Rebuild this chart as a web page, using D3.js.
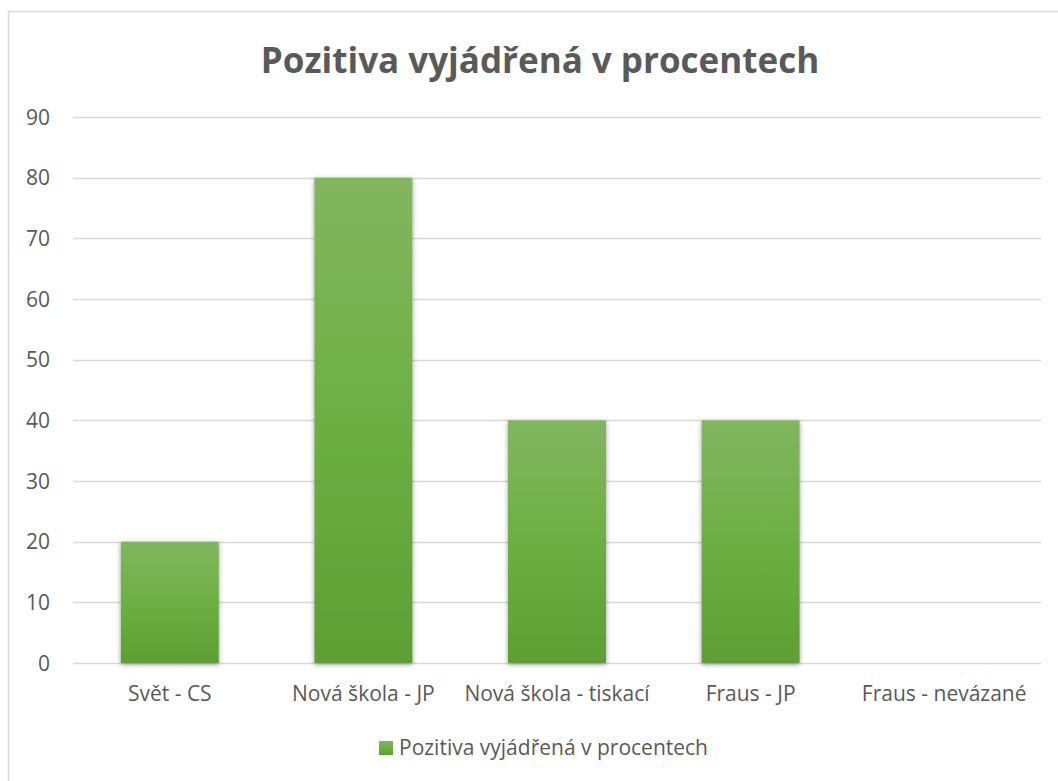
<!DOCTYPE html>
<html>
<head>
<meta charset="utf-8">
<script src="https://cdnjs.cloudflare.com/ajax/libs/d3/7.8.5/d3.min.js"></script>
<style>
  body { margin: 0; background: #fff; }
  text { font-family: "Open Sans", sans-serif; fill: #595959; }
</style>
</head>
<body>
<svg class="canvas" width="1058" height="781"></svg>
<script>
var categories = ["Svět - CS", "Nová škola - JP", "Nová škola - tiskací", "Fraus - JP", "Fraus - nevázané"]
var values = [20, 80, 40, 40, 0]
var yTicks = [0, 10, 20, 30, 40, 50, 60, 70, 80, 90]
var seriesName = "Pozitiva vyjádřená v procentech"
var title = "Pozitiva vyjádřená v procentech"

var svg = d3.select('.canvas')

var margin = {left: 73, right: 1041, top: 117, bottom: 663}

// chart frame
svg.append("rect")
    .attr("x", 8.5).attr("y", 11.5)
    .attr("width", 1070).attr("height", 800)
    .style("fill", "#fff")
    .style("stroke", "#d9d9d9")
    .style("stroke-width", 1.5)

var defs = svg.append("defs")
var grad = defs.append("linearGradient")
    .attr("id", "barGrad")
    .attr("x1", 0).attr("y1", 0).attr("x2", 0).attr("y2", 1)
grad.append("stop").attr("offset", "0%").attr("stop-color", "#82b660")
grad.append("stop").attr("offset", "50%").attr("stop-color", "#6daf43")
grad.append("stop").attr("offset", "100%").attr("stop-color", "#5e9e33")

var filter = defs.append("filter")
    .attr("id", "shadow")
    .attr("x", "-20%").attr("y", "-20%").attr("width", "140%").attr("height", "140%")
filter.append("feDropShadow")
    .attr("dx", 0).attr("dy", 1.5)
    .attr("stdDeviation", 2.5)
    .attr("flood-color", "#000")
    .attr("flood-opacity", 0.4)

var x = d3.scaleBand()
    .domain(categories)
    .range([margin.left, margin.right])
    .paddingInner(0.494)
    .paddingOuter(0.247)

var y = d3.scaleLinear()
    .domain([0, 90])
    .range([margin.bottom, margin.top])

// gridlines
svg.append("g")
    .selectAll("line")
    .data(yTicks)
    .enter()
    .append("line")
        .attr("x1", margin.left)
        .attr("x2", margin.right)
        .attr("y1", function(d) { return Math.round(y(d)) + 0.5; })
        .attr("y2", function(d) { return Math.round(y(d)) + 0.5; })
        .style("stroke", "#d9d9d9")
        .style("stroke-width", 1.5)

// y axis labels
svg.append("g")
    .selectAll("text")
    .data(yTicks)
    .enter()
    .append("text")
        .attr("x", 50)
        .attr("y", function(d) { return y(d); })
        .attr("dy", "0.36em")
        .attr("text-anchor", "end")
        .style("font-size", "21px")
        .text(function(d) { return d; })

// bars
svg.append("g")
    .selectAll("rect")
    .data(values)
    .enter()
    .append("rect")
        .attr("x", function(d, i) { return x(categories[i]); })
        .attr("y", function(d) { return y(d); })
        .attr("width", x.bandwidth())
        .attr("height", function(d) { return y(0) - y(d); })
        .style("fill", "url(#barGrad)")
        .style("filter", function(d) { return d > 0 ? "url(#shadow)" : null; })

// x axis labels
svg.append("g")
    .selectAll("text")
    .data(categories)
    .enter()
    .append("text")
        .attr("x", function(d) { return x(d) + x.bandwidth() / 2; })
        .attr("y", 701)
        .attr("text-anchor", "middle")
        .style("font-size", "21px")
        .text(function(d) { return d; })

// title
svg.append("text")
    .attr("x", 540)
    .attr("y", 73)
    .attr("text-anchor", "middle")
    .style("font-size", "35px")
    .style("font-weight", "bold")
    .text(title)

// legend
var legend = svg.append("g")
legend.append("rect")
    .attr("x", 379).attr("y", 741)
    .attr("width", 14).attr("height", 14)
    .style("fill", "url(#barGrad)")
legend.append("text")
    .attr("x", 399)
    .attr("y", 755)
    .style("font-size", "21px")
    .text(seriesName)
</script>
</body>
</html>
